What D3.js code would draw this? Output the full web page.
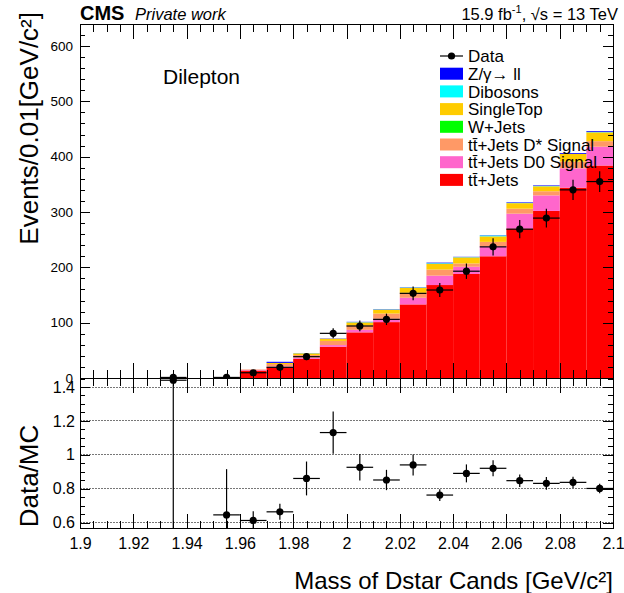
<!DOCTYPE html>
<html>
<head>
<meta charset="utf-8">
<script src="https://cdn.jsdelivr.net/npm/d3@7"></script>
<style>
  body { margin: 0; background: #fff; }
  svg { display: block; }
  text { font-family: "Liberation Sans", Arial, Helvetica, sans-serif; fill: #000; }
</style>
</head>
<body>
<svg id="chart" width="624" height="593"></svg>
<script>
// Lower edges of the 0.01 GeV/c^2 bins
const binLow = [1.90, 1.91, 1.92, 1.93, 1.94, 1.95, 1.96, 1.97, 1.98, 1.99,
                2.00, 2.01, 2.02, 2.03, 2.04, 2.05, 2.06, 2.07, 2.08, 2.09];
const binWidth = 0.01;

// Observed events and their uncertainties (null = empty bin)
const dataCounts = [null, null, null, 1, null, 1, 9.5, 19.3, 38.5, 80.7,
                    94, 106, 153, 159, 193, 237, 269, 289, 340, 355];
const dataErr    = [null, null, null, 1, null, 1, 3.1, 4.4, 6.2, 9,
                    9.7, 10.3, 12.4, 12.6, 13.9, 15.4, 16.4, 17, 18.4, 18.8];

// Simulated contributions, stacked bottom to top
const ttJets      = [0, 0, 0, 0.69, 0, 1.2, 13.5, 19.3, 34.5, 56.5,
                     82.5, 101, 133, 168, 188, 220, 270, 302, 344, 384];
const ttD0Signal  = [0, 0, 0, 0, 0, 0, 1.2, 1.5, 2.5, 3,
                     4.5, 6, 12, 17, 13, 18, 27, 28, 35, 34];
const ttDstSignal = [0, 0, 0, 0, 0, 0.35, 0.8, 4.5, 4.5, 7.5,
                     8, 9.5, 9, 11, 6, 8, 9, 7.5, 12, 10];
const wJets       = [0, 0, 0, 0, 0, 0, 0, 0, 0, 0,
                     0, 0, 0, 0, 0, 0, 0, 0, 0, 0];
const singleTop   = [0, 0, 0, 0, 0, 0, 0, 2, 3, 4,
                     5.5, 7, 9, 10.5, 11, 10, 10, 9, 14, 16];
const dibosons    = [0, 0, 0, 0, 0, 0, 0, 0, 0.3, 0,
                     0.5, 0.5, 0.5, 1, 0.5, 1.5, 0.5, 0.5, 0, 0.5];
const zGammaLL    = [0, 0, 0, 0, 0, 0, 0, 2, 0.2, 0.5,
                     0.5, 0.5, 0.5, 1, 0.5, 0.5, 1, 1, 1.5, 1.5];

// Data / MC ratio and its uncertainty
const ratioVals = [null, null, null, 1.44, null, 0.645, 0.612, 0.663, 0.86, 1.131,
                   0.926, 0.851, 0.94, 0.762, 0.89, 0.92, 0.847, 0.831, 0.837, 0.801];
const ratioErr  = [null, null, null, 1.45, null, 0.27, 0.055, 0.047, 0.1, 0.125,
                   0.078, 0.06, 0.062, 0.035, 0.053, 0.047, 0.037, 0.037, 0.033, 0.028];

// Axis ticks and labels
const xMajorTicks  = [1.90, 1.92, 1.94, 1.96, 1.98, 2.00, 2.02, 2.04, 2.06, 2.08, 2.10];
const xTickLabels  = ["1.9", "1.92", "1.94", "1.96", "1.98", "2", "2.02", "2.04", "2.06", "2.08", "2.1"];
const xMinorStep   = 0.005;
const yMajorTicks  = [0, 100, 200, 300, 400, 500, 600];
const yMinorStep   = 20;
const rMajorTicks  = [0.6, 0.8, 1.0, 1.2, 1.4];
const rTickLabels  = ["0.6", "0.8", "1", "1.2", "1.4"];
const rMinorStep   = 0.05;

// Legend entries (top to bottom) and their fills
const legendNames  = ["Z/\u03B3\u2192 ll", "Dibosons", "SingleTop", "W+Jets",
                      "tt\u0304+Jets D* Signal", "tt\u0304+Jets D0 Signal", "tt\u0304+Jets"];
const legendColors = ["#0000ff", "#00ffff", "#ffcc00", "#00ff00", "#ff9966", "#ff66cc", "#ff0000"];

// ---------------------------------------------------------------
const svg = d3.select("#chart");

const L = 80, R = 613;
const topY0 = 24, topY1 = 378;      // upper pad frame
const ratY0 = 378, ratY1 = 528;     // ratio pad frame

const x = d3.scaleLinear().domain([1.9, 2.1]).range([L, R]);
const y = d3.scaleLinear().domain([0, 600]).range([378, 46]);
const yTopVal = y.invert(topY0);
const yr = d3.scaleLinear().domain([0.6, 1.4]).range([522.5, 387]);

const xMinor = d3.range(0, Math.round((2.1 - 1.9) / xMinorStep) + 1).map(i => +(1.9 + i * xMinorStep).toFixed(4));
const yMinor = d3.range(0, Math.floor(yTopVal / yMinorStep) + 1).map(i => i * yMinorStep);
const rLo = yr.invert(ratY1), rHi = yr.invert(ratY0);
const rMinor = d3.range(Math.ceil(rLo / rMinorStep), Math.floor(rHi / rMinorStep) + 1).map(i => +(i * rMinorStep).toFixed(3));

// clip paths for the two pads
const defs = svg.append("defs");
defs.append("clipPath").attr("id", "clipTop").append("rect")
  .attr("x", L).attr("y", topY0).attr("width", R - L).attr("height", topY1 - topY0);
defs.append("clipPath").attr("id", "clipRatio").append("rect")
  .attr("x", L).attr("y", ratY0).attr("width", R - L).attr("height", ratY1 - ratY0);

// ----- stacked simulation -----
const stackKeys = ["ttJets", "ttD0Signal", "ttDstSignal", "wJets", "singleTop", "dibosons", "zGammaLL"];
const stackColors = {
  ttJets: "#ff0000", ttD0Signal: "#ff66cc", ttDstSignal: "#ff9966", wJets: "#00ff00",
  singleTop: "#ffcc00", dibosons: "#00ffff", zGammaLL: "#0000ff"
};
const table = binLow.map((lo, i) => ({
  lo, ttJets: ttJets[i], ttD0Signal: ttD0Signal[i], ttDstSignal: ttDstSignal[i],
  wJets: wJets[i], singleTop: singleTop[i], dibosons: dibosons[i], zGammaLL: zGammaLL[i]
}));
const layers = d3.stack().keys(stackKeys)(table);

const gTop = svg.append("g").attr("clip-path", "url(#clipTop)");
gTop.selectAll("g.layer").data(layers).join("g")
  .attr("class", "layer")
  .attr("fill", d => stackColors[d.key])
  .selectAll("rect").data(d => d.filter(s => s[1] > s[0])).join("rect")
  .attr("x", s => x(s.data.lo))
  .attr("width", s => x(s.data.lo + binWidth) - x(s.data.lo))
  .attr("y", s => y(s[1]))
  .attr("height", s => y(s[0]) - y(s[1]));

// ----- axes helper -----
function tickAxis(g, axis) {
  g.call(axis);
  g.select(".domain").remove();
  g.selectAll(".tick line").attr("stroke", "#000").attr("shape-rendering", "crispEdges");
  return g;
}

// ----- upper pad axes -----
tickAxis(svg.append("g").attr("transform", `translate(0,${topY1})`),
  d3.axisBottom(x).tickValues(xMinor).tickSize(-8).tickFormat(""));
tickAxis(svg.append("g").attr("transform", `translate(0,${topY1})`),
  d3.axisBottom(x).tickValues(xMajorTicks).tickSize(-15).tickFormat(""));
tickAxis(svg.append("g").attr("transform", `translate(0,${topY0})`),
  d3.axisTop(x).tickValues(xMinor).tickSize(-8).tickFormat(""));
tickAxis(svg.append("g").attr("transform", `translate(0,${topY0})`),
  d3.axisTop(x).tickValues(xMajorTicks).tickSize(-15).tickFormat(""));

tickAxis(svg.append("g").attr("transform", `translate(${L},0)`),
  d3.axisLeft(y).tickValues(yMinor).tickSize(-5).tickFormat(""));
const yLab = tickAxis(svg.append("g").attr("transform", `translate(${L},0)`),
  d3.axisLeft(y).tickValues(yMajorTicks).tickSize(-10).tickPadding(7).tickFormat(d3.format("d")));
yLab.selectAll("text").attr("font-size", 13.5).attr("font-family", null);
tickAxis(svg.append("g").attr("transform", `translate(${R},0)`),
  d3.axisRight(y).tickValues(yMinor).tickSize(-5).tickFormat(""));
tickAxis(svg.append("g").attr("transform", `translate(${R},0)`),
  d3.axisRight(y).tickValues(yMajorTicks).tickSize(-10).tickFormat(""));

// ----- data points, upper pad -----
const pts = binLow.map((lo, i) => ({ lo, v: dataCounts[i], e: dataErr[i] })).filter(d => d.v !== null);
const gData = svg.append("g").attr("clip-path", "url(#clipTop)")
  .attr("stroke", "#000").attr("stroke-width", 1.2);
gData.selectAll("line.h").data(pts).join("line").attr("class", "h")
  .attr("x1", d => x(d.lo)).attr("x2", d => x(d.lo + binWidth))
  .attr("y1", d => y(d.v)).attr("y2", d => y(d.v));
gData.selectAll("line.v").data(pts).join("line").attr("class", "v")
  .attr("x1", d => x(d.lo + binWidth / 2)).attr("x2", d => x(d.lo + binWidth / 2))
  .attr("y1", d => y(Math.max(0, d.v - d.e))).attr("y2", d => y(d.v + d.e));
gData.selectAll("circle").data(pts).join("circle")
  .attr("cx", d => x(d.lo + binWidth / 2)).attr("cy", d => y(d.v)).attr("r", 3.6)
  .attr("fill", "#000").attr("stroke", "none");

// frame of the upper pad
svg.append("rect").attr("x", L).attr("y", topY0).attr("width", R - L).attr("height", topY1 - topY0)
  .attr("fill", "none").attr("stroke", "#000").attr("shape-rendering", "crispEdges");

// ----- ratio pad -----
const gGrid = svg.append("g");
gGrid.selectAll("line").data(rMajorTicks).join("line")
  .attr("x1", L).attr("x2", R).attr("y1", d => yr(d)).attr("y2", d => yr(d))
  .attr("stroke", "#777").attr("stroke-width", 1).attr("stroke-dasharray", "1.5,1.5")
  .attr("shape-rendering", "crispEdges");

tickAxis(svg.append("g").attr("transform", `translate(0,${ratY1})`),
  d3.axisBottom(x).tickValues(xMinor).tickSize(-7).tickFormat(""));
const xLab = tickAxis(svg.append("g").attr("transform", `translate(0,${ratY1})`),
  d3.axisBottom(x).tickValues(xMajorTicks).tickSize(-14).tickPadding(10)
    .tickFormat((d, i) => xTickLabels[i]));
xLab.selectAll("text").attr("font-size", 16).attr("font-family", null);
tickAxis(svg.append("g").attr("transform", `translate(0,${ratY0})`),
  d3.axisTop(x).tickValues(xMinor).tickSize(-8).tickFormat(""));
tickAxis(svg.append("g").attr("transform", `translate(0,${ratY0})`),
  d3.axisTop(x).tickValues(xMajorTicks).tickSize(-15).tickFormat(""));

tickAxis(svg.append("g").attr("transform", `translate(${L},0)`),
  d3.axisLeft(yr).tickValues(rMinor).tickSize(-5).tickFormat(""));
const rLab = tickAxis(svg.append("g").attr("transform", `translate(${L},0)`),
  d3.axisLeft(yr).tickValues(rMajorTicks).tickSize(-10).tickPadding(5)
    .tickFormat((d, i) => rTickLabels[i]));
rLab.selectAll("text").attr("font-size", 16).attr("font-family", null);
tickAxis(svg.append("g").attr("transform", `translate(${R},0)`),
  d3.axisRight(yr).tickValues(rMinor).tickSize(-5).tickFormat(""));
tickAxis(svg.append("g").attr("transform", `translate(${R},0)`),
  d3.axisRight(yr).tickValues(rMajorTicks).tickSize(-10).tickFormat(""));

const rpts = binLow.map((lo, i) => ({ lo, v: ratioVals[i], e: ratioErr[i] })).filter(d => d.v !== null);
const gRatio = svg.append("g").attr("clip-path", "url(#clipRatio)")
  .attr("stroke", "#000").attr("stroke-width", 1.2);
gRatio.selectAll("line.h").data(rpts).join("line").attr("class", "h")
  .attr("x1", d => x(d.lo)).attr("x2", d => x(d.lo + binWidth))
  .attr("y1", d => yr(d.v)).attr("y2", d => yr(d.v));
gRatio.selectAll("line.v").data(rpts).join("line").attr("class", "v")
  .attr("x1", d => x(d.lo + binWidth / 2)).attr("x2", d => x(d.lo + binWidth / 2))
  .attr("y1", d => yr(d.v - d.e)).attr("y2", d => yr(d.v + d.e));
gRatio.selectAll("circle").data(rpts).join("circle")
  .attr("cx", d => x(d.lo + binWidth / 2)).attr("cy", d => yr(d.v)).attr("r", 3.6)
  .attr("fill", "#000").attr("stroke", "none");

svg.append("rect").attr("x", L).attr("y", ratY0).attr("width", R - L).attr("height", ratY1 - ratY0)
  .attr("fill", "none").attr("stroke", "#000").attr("shape-rendering", "crispEdges");

// ----- titles -----
svg.append("text").attr("transform", "translate(38,12) rotate(-90)")
  .attr("text-anchor", "end").attr("font-size", 26)
  .text("Events/0.01[GeV/c\u00B2]");
svg.append("text").attr("transform", "translate(38,476) rotate(-90)")
  .attr("text-anchor", "middle").attr("font-size", 26)
  .text("Data/MC");
svg.append("text").attr("x", 613).attr("y", 589)
  .attr("text-anchor", "end").attr("font-size", 24)
  .text("Mass of Dstar Cands [GeV/c\u00B2]");

svg.append("text").attr("x", 80).attr("y", 20).attr("font-size", 20).attr("font-weight", "bold").text("CMS");
svg.append("text").attr("x", 135).attr("y", 20).attr("font-size", 16.5).attr("font-style", "italic").text("Private work");

const lumi = svg.append("text").attr("x", 618).attr("y", 20).attr("text-anchor", "end").attr("font-size", 16.5);
lumi.append("tspan").text("15.9 fb");
lumi.append("tspan").attr("font-size", 11).attr("dy", -7).text("-1");
lumi.append("tspan").attr("dy", 7).text(", \u221As = 13 TeV");

svg.append("text").attr("x", 163).attr("y", 84).attr("font-size", 21).text("Dilepton");

// ----- legend -----
const lx = 440, lw = 23, ly0 = 56, ldy = 17.7;
const gLeg = svg.append("g");
gLeg.append("line").attr("x1", lx).attr("x2", lx + lw).attr("y1", ly0).attr("y2", ly0)
  .attr("stroke", "#000").attr("stroke-width", 1.2);
gLeg.append("circle").attr("cx", lx + lw / 2).attr("cy", ly0).attr("r", 3.6).attr("fill", "#000");
gLeg.append("text").attr("x", lx + 28).attr("y", ly0).attr("dy", "0.36em").attr("font-size", 17).text("Data");
const rows = gLeg.selectAll("g.row").data(legendNames).join("g").attr("class", "row")
  .attr("transform", (d, i) => `translate(0,${ly0 + (i + 1) * ldy})`);
rows.append("rect").attr("x", lx).attr("y", -6).attr("width", lw).attr("height", 12)
  .attr("fill", (d, i) => legendColors[i]);
rows.append("text").attr("x", lx + 28).attr("dy", "0.36em").attr("font-size", 17).text(d => d);
</script>
</body>
</html>
